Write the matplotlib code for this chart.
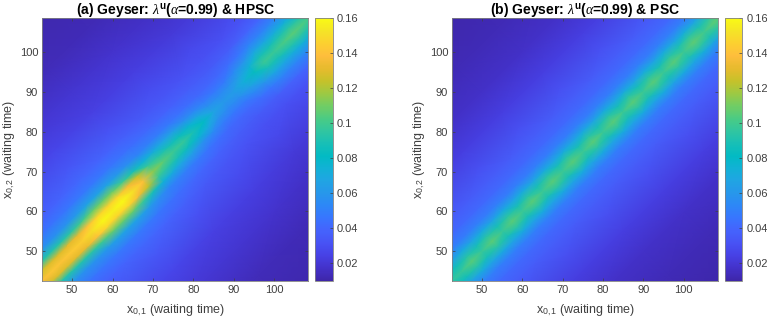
#!/usr/bin/env python3

import numpy as np
import matplotlib
matplotlib.use('Agg')
import matplotlib.pyplot as plt
from matplotlib.colors import LinearSegmentedColormap

plt.rcParams['font.family'] = ['Liberation Sans']
plt.rcParams['mathtext.fontset'] = 'custom'
plt.rcParams['mathtext.rm'] = 'Liberation Sans'
plt.rcParams['mathtext.it'] = 'Liberation Serif:italic'
plt.rcParams['mathtext.bf'] = 'Liberation Sans:bold'

W, H = 767, 320
TEXT = '#404040'

# positions along the diagonal, (x1 + x2) / 2
near_pos = [40, 42.5, 45, 47.5, 50, 52.5, 55, 57.5, 60, 62.5, 65, 67.5, 70, 72.5, 75,
            77.5, 80, 82.5, 85, 87.5, 90, 92.5, 95, 97.5, 100, 102.5, 105, 107.5, 110]
mid_pos = [40, 45, 50, 55, 60, 65, 70, 75, 80, 85, 90, 95, 100, 105, 110]
far_pos = [40, 50, 60, 70, 80, 90, 100, 110]
# offsets from the diagonal, |x1 - x2|
near_offsets = [0, 2.5, 5, 8]
mid_offsets = [12, 16]
far_offsets = [22, 30, 40, 52, 70]

near_a = [[.134, .138, .142, .141, .143, .145, .152, .159, .157, .160, .152, .140, .114, .106, .099,
           .097, .089, .081, .067, .061, .063, .073, .083, .099, .098, .103, .106, .103, .099],
          [.122, .125, .129, .129, .131, .133, .140, .148, .146, .148, .136, .124, .098, .093, .088,
           .085, .077, .070, .059, .055, .057, .065, .074, .089, .088, .091, .094, .091, .087],
          [.090, .091, .092, .092, .092, .094, .100, .108, .108, .108, .098, .088, .074, .071, .067,
           .065, .058, .054, .049, .047, .048, .054, .060, .069, .069, .071, .073, .071, .069],
          [.058, .058, .058, .058, .058, .059, .062, .066, .066, .066, .062, .057, .052, .051, .049,
           .048, .045, .043, .041, .040, .041, .043, .046, .052, .052, .053, .054, .053, .052]]
mid_a = [[.045, .045, .045, .046, .047, .046, .043, .040, .038, .036, .035, .036, .039, .041, .041],
         [.038, .038, .038, .039, .040, .039, .037, .035, .033, .032, .031, .031, .032, .033, .034]]
far_a = [[.032, .032, .033, .031, .029, .027, .027, .027],
         [.026, .026, .026, .024, .023, .021, .021, .021],
         [.020, .020, .020, .019, .018, .016, .016, .016],
         [.015, .015, .015, .014, .013, .012, .012, .012],
         [.011, .011, .011, .011, .011, .011, .011, .011]]

near_b = [[.096, .095, .097, .105, .097, .106, .097, .106, .098, .106, .098, .106, .098, .106, .098,
           .106, .098, .106, .098, .106, .098, .106, .098, .106, .099, .107, .100, .106, .105],
          [.087, .086, .087, .093, .088, .094, .088, .094, .089, .094, .089, .094, .089, .094, .089,
           .094, .089, .094, .089, .094, .089, .094, .089, .094, .090, .095, .090, .095, .094],
          [.066, .066, .066, .070, .067, .070, .067, .070, .067, .070, .067, .070, .067, .070, .067,
           .070, .067, .070, .067, .070, .067, .070, .067, .070, .068, .071, .068, .071, .070],
          [.049, .049, .049, .050, .049, .050, .049, .050, .049, .050, .049, .050, .049, .050, .049,
           .050, .049, .050, .049, .050, .049, .050, .049, .050, .050, .050, .050, .050, .050]]
mid_b = [[.041, .041, .041, .041, .041, .041, .041, .041, .041, .041, .041, .041, .041, .041, .041],
         [.036, .036, .036, .036, .036, .036, .036, .036, .036, .036, .036, .036, .036, .036, .036]]
far_b = [[.030, .030, .030, .030, .030, .030, .030, .030],
         [.023, .023, .023, .023, .023, .023, .023, .023],
         [.017, .017, .017, .017, .017, .017, .017, .017],
         [.013, .013, .013, .013, .013, .013, .013, .013],
         [.0105, .0105, .0105, .0105, .0105, .0105, .0105, .0105]]

xy_ticks = [50, 60, 70, 80, 90, 100]
cbar_ticks = [0.02, 0.04, 0.06, 0.08, 0.1, 0.12, 0.14, 0.16]
cbar_labels = ['0.02', '0.04', '0.06', '0.08', '0.1', '0.12', '0.14', '0.16']

# parula, every few entries of the 64 level table
parula = [(.2422, .1504, .6603), (.2647, .1978, .7952), (.2783, .2559, .8991), (.2810, .3228, .9579),
          (.2699, .3892, .9906), (.2206, .4603, .9973), (.1786, .5289, .9682), (.1540, .5902, .9218),
          (.1248, .6459, .8883), (.0689, .6948, .8394), (.0067, .7312, .7660), (.0964, .7500, .7120),
          (.1938, .7758, .6251), (.2906, .7973, .5188), (.4456, .8024, .3909), (.6174, .7876, .2612),
          (.7738, .7598, .1646), (.9035, .7330, .1774), (.9956, .7434, .2371), (.9892, .8136, .1885),
          (.9610, .8890, .1537), (.9769, .9839, .0805)]
cmap = LinearSegmentedColormap.from_list('parula', parula, N=256)


def px_axes(fig, left, top, right, bottom):
    """Axes from pixel edges, y counted from the top"""
    return fig.add_axes([left / W, 1 - bottom / H, (right - left) / W, (bottom - top) / H])


def collect_points(near, mid, far):
    """Both sides of the diagonal as scattered points"""
    s, d, z = [], [], []
    for pos, offsets, rows in ((near_pos, near_offsets, near),
                               (mid_pos, mid_offsets, mid),
                               (far_pos, far_offsets, far)):
        for offset, row in zip(offsets, rows):
            s += pos
            d += [offset] * len(pos)
            z += row
    s, d, z = np.array(s), np.array(d, dtype=float), np.array(z)
    keep = d > 0
    x = np.concatenate([s + d / 2, (s - d / 2)[keep]])
    y = np.concatenate([s - d / 2, (s + d / 2)[keep]])
    return x, y, np.concatenate([z, z[keep]])


def draw_panel(fig, box, cbar_box, near, mid, far, title):
    ax = px_axes(fig, *box)
    x, y, z = collect_points(near, mid, far)
    mesh = ax.tripcolor(x, y, z, shading='gouraud', cmap=cmap, vmin=0.01, vmax=0.16)
    ax.set_xlim(42.6, 108.5)
    ax.set_ylim(42.6, 108.5)
    ax.set_xticks(xy_ticks)
    ax.set_yticks(xy_ticks)
    ax.tick_params(direction='in', top=True, right=True, length=2.5, width=0.5,
                   labelsize=8, colors=TEXT, pad=3)
    ax.set_xlabel('x$_{0,1}$ (waiting time)', fontsize=9, color=TEXT, labelpad=5)
    ax.set_ylabel('x$_{0,2}$ (waiting time)', fontsize=9, color=TEXT, labelpad=2)
    ax.set_title(title, fontsize=10, fontweight='bold', color='black', pad=3)

    cax = px_axes(fig, *cbar_box)
    cbar = fig.colorbar(mesh, cax=cax)
    cbar.set_ticks(cbar_ticks, labels=cbar_labels)
    cbar.ax.tick_params(direction='in', length=2.5, width=0.5, labelsize=8, colors=TEXT, pad=3)

    for a in (ax, cax):
        for spine in a.spines.values():
            spine.set_color('#808080')
            spine.set_linewidth(0.6)


fig = plt.figure(figsize=(W / 100, H / 100), dpi=100)

draw_panel(fig, (42.3, 18.3, 308.3, 280.7), (315, 18.3, 332.7, 280.7), near_a, mid_a, far_a,
           r'(a) Geyser: $\lambda^{\mathbf{u}}$($\alpha$=0.99) & HPSC')
draw_panel(fig, (452.3, 18.3, 718, 280.7), (724.7, 18.3, 742.3, 280.7), near_b, mid_b, far_b,
           r'(b) Geyser: $\lambda^{\mathbf{u}}$($\alpha$=0.99) & PSC')

plt.savefig('out.png', dpi=100)
plt.close()
